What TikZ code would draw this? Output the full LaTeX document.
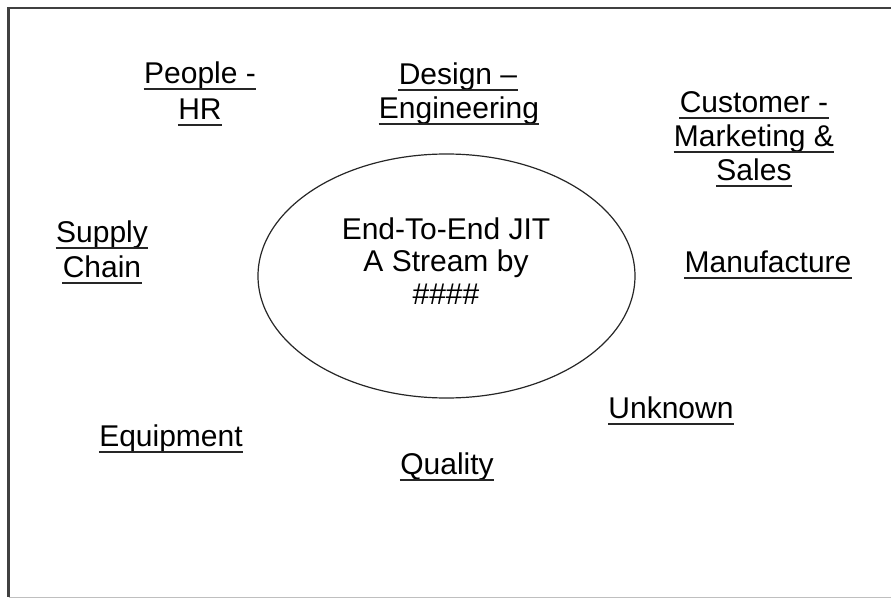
\documentclass[tikz,border=0pt]{standalone}
\usepackage{fontspec}
\setmainfont{Liberation Sans}
\usetikzlibrary{shapes.geometric}
\tikzset{
  lbl/.style={anchor=base, inner sep=0pt, font=\fontsize{15}{17.25}\selectfont},
  uline/.style={line width=1pt, draw=black!85},
  frameline/.style={line width=1.2pt, draw=black!75},
  core/.style={ellipse, draw=black!85, line width=0.6pt, inner sep=0pt,
               minimum width=188.5pt, minimum height=122pt}
}
\begin{document}
\begin{tikzpicture}[x=0.5pt, y=-0.5pt]
\useasboundingbox (0,0) rectangle (891,599);
% frame
\coordinate (ftr) at (891,8.3);
\coordinate (ftl) at (8.7,8.3);
\coordinate (fbl) at (8.7,597.5);
\coordinate (fbr) at (891,597.5);
\draw[frameline] (ftr) -- (ftl) -- (fbl);
\draw[line width=0.6pt, draw=black!25] (fbl) -- (fbr);
% central ellipse
\node[core] (hub) at (446.5,276) {};
\node[lbl] (t1) at (446,240) {End-To-End JIT};
\node[lbl] (t2) at (446,272) {A Stream by};
\node[lbl] (t3) at (446,305) {\#\#\#\#};
% labels
\node[lbl] (p1) at (200,84) {People -};
\node[lbl] (p2) at (200,120) {HR};
\node[lbl] (d1) at (458,85) {Design –};
\node[lbl] (d2) at (459,119) {Engineering};
\node[lbl] (c1) at (754,113) {Customer -};
\node[lbl] (c2) at (754,147) {Marketing \&};
\node[lbl] (c3) at (754,181) {Sales};
\node[lbl] (s1) at (102,243) {Supply};
\node[lbl] (s2) at (102,278) {Chain};
\node[lbl] (m1) at (768,273) {Manufacture};
\node[lbl] (u1) at (671,419) {Unknown};
\node[lbl] (e1) at (171,447) {Equipment};
\node[lbl] (q1) at (447,475) {Quality};
% underlines
\foreach \n in {p1,p2,d1,d2,c1,c2,c3,s1,s2,m1,u1,e1,q1}
  \draw[uline] ([yshift=-2.5pt]\n.base west) -- ([yshift=-2.5pt]\n.base east);
\end{tikzpicture}
\end{document}
